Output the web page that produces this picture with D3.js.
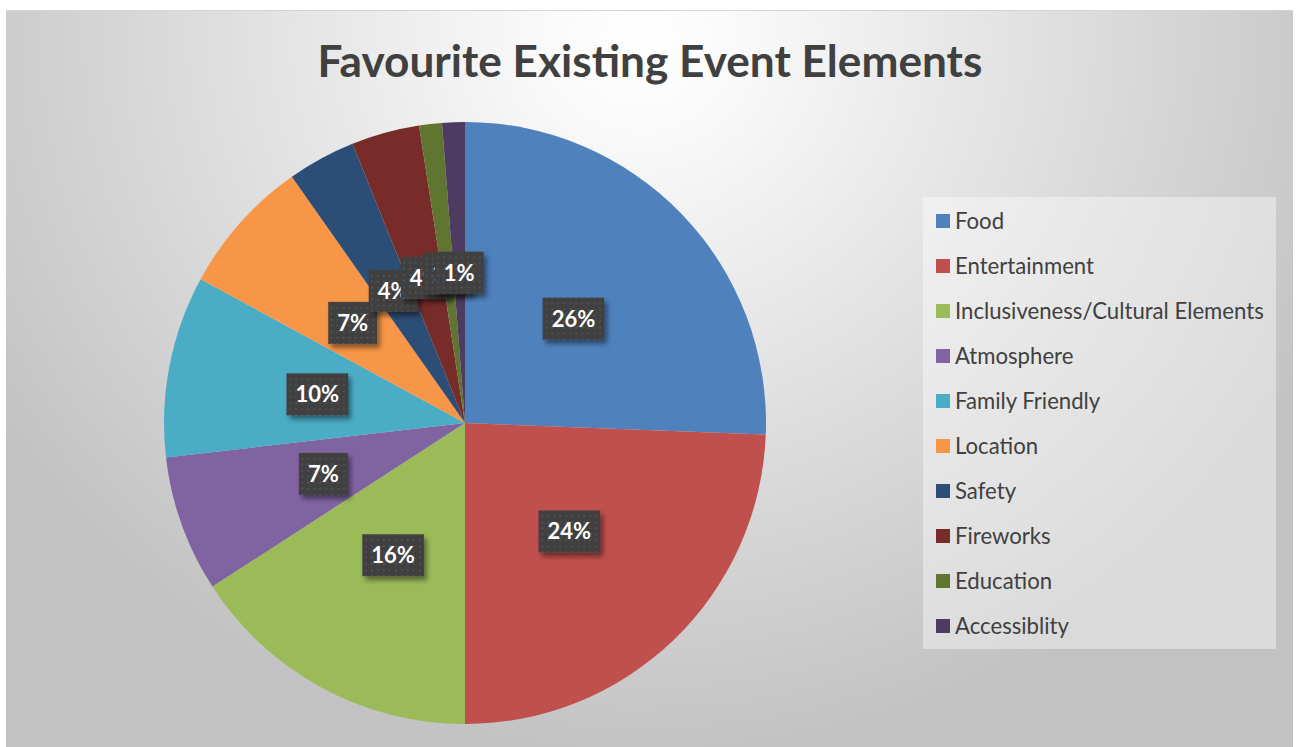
<!DOCTYPE html>
<html>
<head>
<meta charset="utf-8">
<script src="https://cdn.jsdelivr.net/npm/d3@7"></script>
<style>
  html, body { margin: 0; padding: 0; background: #ffffff; }
  svg { display: block; }
</style>
</head>
<body>
<svg id="chart" width="1299" height="747"></svg>
<script>
// ---- data ----
const title = "Favourite Existing Event Elements";
const categories = ["Food", "Entertainment", "Inclusiveness/Cultural Elements", "Atmosphere",
  "Family Friendly", "Location", "Safety", "Fireworks", "Education", "Accessiblity"];
const counts = [21, 20, 13, 6, 8, 6, 3, 3, 1, 1];
const colors = ["#4F81BD", "#C0504D", "#9BBB59", "#8064A2", "#4BACC6",
  "#F79646", "#2C4D75", "#772C2A", "#5F7530", "#4D3B62"];

const W = 1299, H = 747;
const svg = d3.select("#chart");
const defs = svg.append("defs");

// background gradient
const bg = defs.append("radialGradient").attr("id", "bgGrad")
  .attr("gradientUnits", "userSpaceOnUse")
  .attr("cx", 640).attr("cy", 40).attr("r", 760)
  .attr("gradientTransform", "translate(640,40) scale(1,0.95) translate(-640,-40)");
bg.append("stop").attr("offset", 0).attr("stop-color", "#ffffff");
bg.append("stop").attr("offset", 0.12).attr("stop-color", "#fafafa");
bg.append("stop").attr("offset", 1).attr("stop-color", "#c2c2c2");

// dotted label pattern
const pat = defs.append("pattern").attr("id", "dots")
  .attr("patternUnits", "userSpaceOnUse").attr("width", 6).attr("height", 6);
pat.append("rect").attr("width", 6).attr("height", 6).attr("fill", "#3f3f3f");
pat.append("rect").attr("x", 2).attr("y", 2).attr("width", 1.6).attr("height", 1.6).attr("fill", "#5a5a5a");

const shadow = defs.append("filter").attr("id", "shadow")
  .attr("x", "-20%").attr("y", "-20%").attr("width", "150%").attr("height", "160%");
shadow.append("feDropShadow").attr("dx", 3).attr("dy", 4).attr("stdDeviation", 2.5)
  .attr("flood-color", "#000").attr("flood-opacity", 0.45);

// frame
svg.append("rect").attr("x", 6).attr("y", 10).attr("width", 1287).attr("height", H - 10)
  .attr("fill", "url(#bgGrad)");
svg.append("line").attr("x1", 6).attr("x2", 1293).attr("y1", 10.5).attr("y2", 10.5)
  .attr("stroke", "#d4d4d4").attr("stroke-width", 1);

// title
const fontFam = "Lato, 'Open Sans', sans-serif";
const titleText = svg.append("text")
  .attr("x", 650).attr("y", 77)
  .attr("text-anchor", "middle")
  .attr("font-family", fontFam).attr("font-weight", 700)
  .attr("font-size", 40).attr("fill", "#404040")
  .text(title);
{
  const w = titleText.node().getComputedTextLength();
  titleText.attr("font-size", 40 * 665 / w);
}

// pie
const cx = 465, cy = 423, R = 301;
const total = d3.sum(counts);
const pie = d3.pie().sort(null).value(d => d);
const arcs = pie(counts);
const arc = d3.arc().innerRadius(0).outerRadius(R);
const labelArc = d3.arc().innerRadius(R * 0.5).outerRadius(R * 0.5);
const fmt = d3.format(".0%");

const g = svg.append("g").attr("transform", `translate(${cx},${cy})`);
g.selectAll("path.slice").data(arcs).enter().append("path")
  .attr("class", "slice")
  .attr("d", arc)
  .attr("fill", (d, i) => colors[i]);

// labels
const lg = g.selectAll("g.lab").data(arcs).enter().append("g")
  .attr("class", "lab")
  .attr("transform", d => `translate(${labelArc.centroid(d)})`);
lg.each(function(d) {
  const sel = d3.select(this);
  const rect = sel.append("rect").attr("fill", "url(#dots)").attr("filter", "url(#shadow)");
  const t = sel.append("text")
    .attr("text-anchor", "middle").attr("dy", "0.36em")
    .attr("font-family", fontFam).attr("font-weight", 700)
    .attr("font-size", 22).attr("fill", "#ffffff")
    .text(fmt(d.value / total));
  const tw = t.node().getComputedTextLength();
  const bw = tw + 18, bh = 42;
  rect.attr("x", -bw / 2).attr("y", -bh / 2).attr("width", bw).attr("height", bh);
});

// legend
const lx = 923, ly = 197, lw = 353, lh = 452;
svg.append("rect").attr("x", lx).attr("y", ly).attr("width", lw).attr("height", lh)
  .attr("fill", "#ffffff").attr("fill-opacity", 0.4);
const leg = svg.append("g");
const items = leg.selectAll("g").data(categories).enter().append("g")
  .attr("transform", (d, i) => `translate(936, ${221 + i * 45})`);
items.append("rect").attr("x", 0).attr("y", -7).attr("width", 14).attr("height", 14)
  .attr("fill", (d, i) => colors[i]);
const legTexts = items.append("text").attr("x", 19).attr("dy", "0.35em")
  .attr("font-family", fontFam).attr("font-size", 20).attr("fill", "#404040")
  .text(d => d);
{
  const w = legTexts.filter((d, i) => i === 2).node().getComputedTextLength();
  legTexts.attr("font-size", 20 * 309 / w);
}
</script>
</body>
</html>
